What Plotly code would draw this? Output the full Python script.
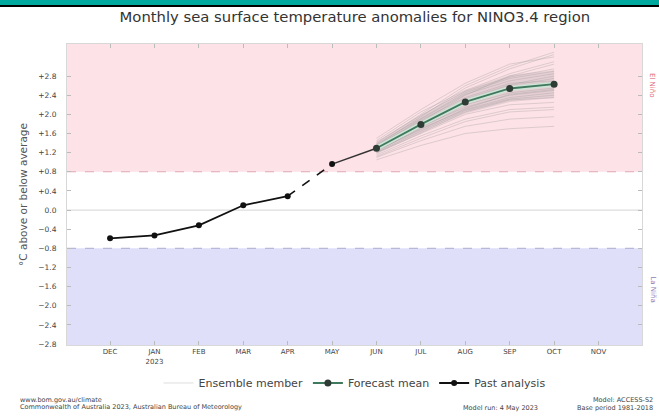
import plotly.graph_objects as go

months = ["DEC", "JAN<br>2023", "FEB", "MAR", "APR", "MAY", "JUN", "JUL", "AUG", "SEP", "OCT", "NOV"]
x_idx = list(range(len(months)))

past_x = [0, 1, 2, 3, 4, 5]
past_vals = [-0.59, -0.53, -0.32, 0.10, 0.29, 0.96]

fc_x = [6, 7, 8, 9, 10]
fc_mean = [1.29, 1.79, 2.26, 2.54, 2.63]

band_low = [1.20, 1.62, 2.02, 2.26, 2.34]
band_high = [1.40, 1.98, 2.50, 2.82, 2.92]

ensemble = [
    [1.30, 1.85, 2.40, 2.80, 3.05],
    [1.35, 1.95, 2.55, 2.95, 3.25],
    [1.25, 1.70, 2.10, 2.35, 2.45],
    [1.40, 2.00, 2.60, 3.00, 3.30],
    [1.20, 1.60, 2.00, 2.20, 2.25],
    [1.28, 1.80, 2.30, 2.60, 2.75],
    [1.32, 1.88, 2.35, 2.65, 2.70],
    [1.15, 1.55, 1.90, 2.10, 2.15],
    [1.45, 2.05, 2.50, 2.85, 3.10],
    [1.22, 1.72, 2.20, 2.45, 2.55],
    [1.30, 1.78, 2.25, 2.55, 2.60],
    [1.10, 1.45, 1.75, 1.90, 1.95],
    [1.38, 1.92, 2.45, 2.75, 2.90],
    [1.26, 1.75, 2.15, 2.40, 2.50],
    [1.33, 1.90, 2.42, 2.70, 2.85],
    [1.18, 1.62, 2.05, 2.30, 2.35],
    [1.50, 2.10, 2.65, 3.05, 3.20],
    [1.24, 1.68, 2.12, 2.42, 2.52],
    [1.05, 1.35, 1.60, 1.70, 1.75],
    [1.36, 1.84, 2.32, 2.62, 2.80],
    [1.29, 1.82, 2.28, 2.50, 2.62],
    [1.42, 1.98, 2.48, 2.78, 2.95],
    [1.20, 1.65, 2.08, 2.32, 2.40],
    [1.12, 1.50, 1.85, 2.05, 2.10],
    [1.31, 1.76, 2.22, 2.58, 2.68],
]

y_ticks = [2.8, 2.4, 2.0, 1.6, 1.2, 0.8, 0.4, 0.0, -0.4, -0.8, -1.2, -1.6, -2.0, -2.4, -2.8]
y_tick_text = ["+2.8", "+2.4", "+2.0", "+1.6", "+1.2", "+0.8", "+0.4", "0.0",
               "\u22120.4", "\u22120.8", "\u22121.2", "\u22121.6", "\u22122.0", "\u22122.4", "\u22122.8"]

Y_MIN, Y_MAX = -2.82, 3.47
X_MIN, X_MAX = -0.97, 11.98
EL_NINO, LA_NINA = 0.8, -0.8

font = "DejaVu Sans"
fig = go.Figure()

# shaded spread
fig.add_trace(go.Scatter(x=fc_x, y=band_low, mode="lines", line=dict(width=0, color="rgba(0,0,0,0)"),
                         showlegend=False, hoverinfo="skip"))
fig.add_trace(go.Scatter(x=fc_x, y=band_high, mode="lines", line=dict(width=0, color="rgba(0,0,0,0)"),
                         fill="tonexty", fillcolor="rgba(110,110,110,0.16)", showlegend=False, hoverinfo="skip"))

for i, m in enumerate(ensemble):
    fig.add_trace(go.Scatter(
        x=fc_x, y=m, mode="lines",
        line=dict(color="rgba(150,150,150,0.4)", width=0.8),
        name="Ensemble member", legendgroup="ens", showlegend=(i == 0),
        hoverinfo="skip"))

# connector MAY -> JUN
fig.add_trace(go.Scatter(x=[past_x[-1], fc_x[0]], y=[past_vals[-1], fc_mean[0]], mode="lines",
                         line=dict(color="#333333", width=1.5), showlegend=False, hoverinfo="skip"))

# forecast mean
fig.add_trace(go.Scatter(x=fc_x, y=fc_mean, mode="lines", line=dict(color="#cfe3d6", width=5),
                         showlegend=False, hoverinfo="skip"))
fig.add_trace(go.Scatter(
    x=fc_x, y=fc_mean, mode="lines+markers", name="Forecast mean",
    line=dict(color="#3f7a5e", width=1.8),
    marker=dict(color="#2f3b35", size=7)))

# past analysis
fig.add_trace(go.Scatter(x=past_x[4:6], y=past_vals[4:6], mode="lines",
                         line=dict(color="#111111", width=1.6, dash="dash"), showlegend=False, hoverinfo="skip"))
fig.add_trace(go.Scatter(
    x=past_x[:5], y=past_vals[:5], mode="lines+markers", name="Past analysis",
    line=dict(color="#111111", width=1.8),
    marker=dict(color="#111111", size=6)))
fig.add_trace(go.Scatter(x=[past_x[5]], y=[past_vals[5]], mode="markers",
                         marker=dict(color="#111111", size=6), showlegend=False, hoverinfo="skip"))

shapes = [
    dict(type="rect", xref="paper", yref="y", x0=0, x1=1, y0=EL_NINO, y1=Y_MAX,
         fillcolor="#fde2e7", line=dict(width=0), layer="below"),
    dict(type="rect", xref="paper", yref="y", x0=0, x1=1, y0=Y_MIN, y1=LA_NINA,
         fillcolor="#dfdffa", line=dict(width=0), layer="below"),
    dict(type="line", xref="paper", yref="y", x0=0, x1=1, y0=EL_NINO, y1=EL_NINO,
         line=dict(color="#e0a8b3", width=1.2, dash="dash"), layer="below"),
    dict(type="line", xref="paper", yref="y", x0=0, x1=1, y0=LA_NINA, y1=LA_NINA,
         line=dict(color="#b8b8d8", width=1.2, dash="dash"), layer="below"),
    dict(type="line", xref="paper", yref="y", x0=0, x1=1, y0=0, y1=0,
         line=dict(color="#dddddd", width=1.2), layer="below"),
    # top banner
    dict(type="rect", xref="paper", yref="paper", x0=-1, x1=2, y0=1.1296, y1=1.25,
         fillcolor="#00a99d", line=dict(width=0)),
    dict(type="rect", xref="paper", yref="paper", x0=-1, x1=2, y0=1.1229, y1=1.1296,
         fillcolor="#000000", line=dict(width=0)),
]

foot = dict(family=font, size=6.5, color="#444")
annotations = [
    dict(text="El Ni\u00f1o", xref="paper", yref="y", x=1.008, y=2.6, showarrow=False,
         textangle=90, font=dict(family=font, size=7, color="#e06a80"), xanchor="left"),
    dict(text="La Ni\u00f1a", xref="paper", yref="y", x=1.008, y=-1.65, showarrow=False,
         textangle=90, font=dict(family=font, size=7, color="#8a7ab8"), xanchor="left"),
    dict(text="www.bom.gov.au/climate", xref="paper", yref="paper", x=-0.085, y=-0.183,
         xanchor="left", yanchor="middle", showarrow=False, font=foot),
    dict(text="Commonwealth of Australia 2023, Australian Bureau of Meteorology", xref="paper", yref="paper",
         x=-0.085, y=-0.206, xanchor="left", yanchor="middle", showarrow=False, font=foot),
    dict(text="Model run: 4 May 2023", xref="paper", yref="paper", x=0.823, y=-0.209, xanchor="right",
         yanchor="middle", showarrow=False, font=foot),
    dict(text="Model: ACCESS-S2", xref="paper", yref="paper", x=1.022, y=-0.183,
         xanchor="right", yanchor="middle", showarrow=False, font=foot),
    dict(text="Base period 1981-2018", xref="paper", yref="paper", x=1.022, y=-0.209,
         xanchor="right", yanchor="middle", showarrow=False, font=foot),
]

fig.update_layout(
    width=659, height=417,
    margin=dict(l=67, r=17, t=44, b=72),
    paper_bgcolor="white", plot_bgcolor="white",
    font=dict(family=font, color="#333333"),
    title=dict(text="Monthly sea surface temperature anomalies for NINO3.4 region",
               x=0.5385, xanchor="center", y=0.96, yanchor="middle",
               font=dict(family=font, size=14.8, color="#333333")),
    shapes=shapes, annotations=annotations,
    legend=dict(orientation="h", x=0.5, xanchor="center", y=-0.078, yanchor="top",
                font=dict(family=font, size=11, color="#444"), bgcolor="rgba(0,0,0,0)",
                itemwidth=30, tracegroupgap=0),
    showlegend=True,
)
fig.update_xaxes(range=[X_MIN, X_MAX], tickvals=x_idx, ticktext=months, showgrid=False, zeroline=False,
                 ticks="inside", ticklen=4, tickcolor="#bbbbbb", mirror="ticks", showline=True,
                 linecolor="#d8d8d8", linewidth=1, tickfont=dict(family=font, size=7, color="#444"))
fig.update_yaxes(range=[Y_MIN, Y_MAX], tickvals=y_ticks, ticktext=y_tick_text, showgrid=False, zeroline=False,
                 ticks="inside", ticklen=4, tickcolor="#bbbbbb", mirror="ticks", showline=True,
                 linecolor="#d8d8d8", linewidth=1, tickfont=dict(family=font, size=7.5, color="#444"),
                 ticklabelstandoff=8,
                 title=dict(text="\u00b0C above or below average", font=dict(family=font, size=10.5, color="#555"),
                            standoff=8))

fig.write_html("out.html", config={"displayModeBar": False},
               post_script="document.body.style.margin='0';")
